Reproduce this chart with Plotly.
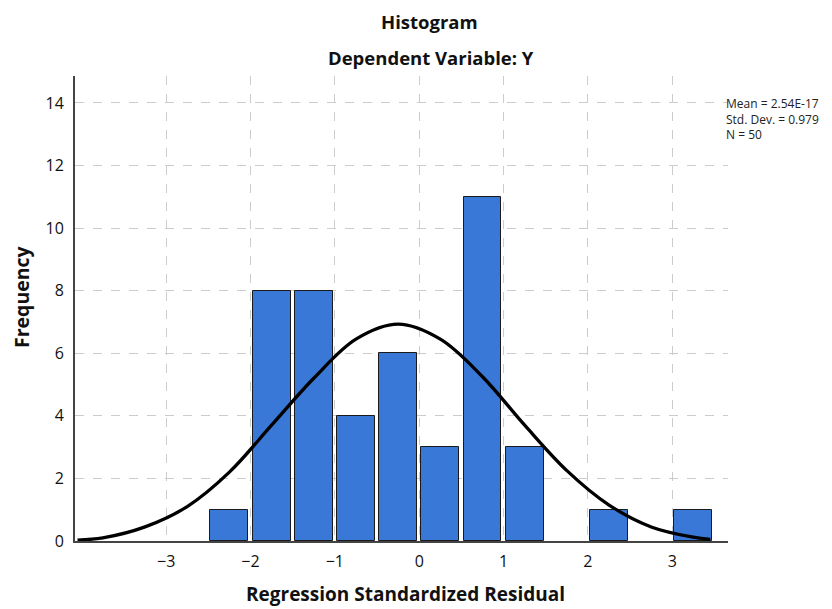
import plotly.graph_objects as go

# Histogram bins (left edges, width 0.5) and frequencies
bin_left = [-2.5, -2.0, -1.5, -1.0, -0.5, 0.0, 0.5, 1.0, 1.5, 2.0, 2.5, 3.0]
bin_width = 0.5
freq = [1, 8, 8, 4, 6, 3, 11, 3, 0, 1, 0, 1]

# Normal curve points
curve_x = [-4.05, -3.75, -3.25, -2.75, -2.25, -1.75, -1.25, -0.75, -0.25, 0.25, 0.75, 1.25, 1.75, 2.25, 2.75, 3.25, 3.45]
curve_y = [0.03, 0.1, 0.45, 1.1, 2.2, 3.7, 5.2, 6.45, 6.93, 6.45, 5.25, 3.7, 2.25, 1.15, 0.45, 0.12, 0.05]

x_ticks = [-3, -2, -1, 0, 1, 2, 3]
y_ticks = [0, 2, 4, 6, 8, 10, 12, 14]

stats_text = "Mean = 2.54E-17<br>Std. Dev. = 0.979<br>N = 50"

centers = [b + bin_width / 2 for b in bin_left]
line_w = [1 if f > 0 else 0 for f in freq]

FONT = "Open Sans"
OFF = 8  # page body margin in the browser
W, H = 832 - OFF, 609 - OFF
# plot area in window pixels: left 75, top 76, right 728, bottom 541
L, T = 75 - OFF, 76 - OFF
R, B = W - (728 - OFF), H - (541 - OFF)

fig = go.Figure()
fig.add_trace(go.Bar(
    x=centers, y=freq, width=bin_width * 0.9,
    marker=dict(color="#3a78d8", line=dict(color="#1a1a1a", width=line_w)),
    showlegend=False, hoverinfo="x+y",
))
fig.add_trace(go.Scatter(
    x=curve_x, y=curve_y, mode="lines",
    line=dict(color="black", width=3.3, shape="spline", smoothing=1.0),
    showlegend=False,
))

fig.update_layout(
    width=W, height=H,
    margin=dict(l=L, r=R, t=T, b=B),
    plot_bgcolor="white", paper_bgcolor="white",
    font=dict(family=FONT, color="#111"),
    bargap=0,
)
fig.update_xaxes(
    range=[-4.08, 3.66], tickvals=x_ticks, ticktext=[str(v).replace("-", "−") for v in x_ticks],
    showline=True, linecolor="#444", linewidth=2,
    showgrid=True, gridcolor="#cccccc", griddash="dash", gridwidth=1,
    ticks="outside", ticklen=5, tickcolor="white",
    tickfont=dict(size=16, family=FONT, color="#111"),
    zeroline=False, automargin=False,
)
fig.update_yaxes(
    range=[0, 14.86], tickvals=y_ticks,
    showline=True, linecolor="#444", linewidth=2,
    showgrid=True, gridcolor="#cccccc", griddash="dash", gridwidth=1,
    ticks="outside", ticklen=6, tickcolor="white",
    tickfont=dict(size=16, family=FONT, color="#111"),
    zeroline=False, automargin=False,
)

def px_x(p):
    p -= OFF
    return (p - L) / (W - L - R)

def px_y(p):
    p -= OFF
    return (H - B - p) / (H - T - B)

fig.add_annotation(text="<b>Histogram</b>", xref="paper", yref="paper",
                   x=px_x(429), y=px_y(22), xanchor="center", yanchor="middle",
                   showarrow=False, font=dict(size=18.5, family=FONT, color="#111"))
fig.add_annotation(text="<b>Dependent Variable: Y</b>", xref="paper", yref="paper",
                   x=px_x(431), y=px_y(58), xanchor="center", yanchor="middle",
                   showarrow=False, font=dict(size=18.5, family=FONT, color="#111"))
fig.add_annotation(text="<b>Frequency</b>", xref="paper", yref="paper",
                   x=px_x(21), y=px_y(297), xanchor="center", yanchor="middle",
                   textangle=-90, showarrow=False, font=dict(size=19.5, family=FONT, color="#111"))
fig.add_annotation(text="<b>Regression Standardized Residual</b>", xref="paper", yref="paper",
                   x=px_x(405), y=px_y(594), xanchor="center", yanchor="middle",
                   showarrow=False, font=dict(size=19, family=FONT, color="#111"))
fig.add_annotation(
    text=stats_text, xref="paper", yref="paper", x=px_x(724), y=px_y(93),
    xanchor="left", yanchor="top", showarrow=False, align="left",
    font=dict(size=12, family=FONT, color="#222"),
)

fig.write_html("out.html")
